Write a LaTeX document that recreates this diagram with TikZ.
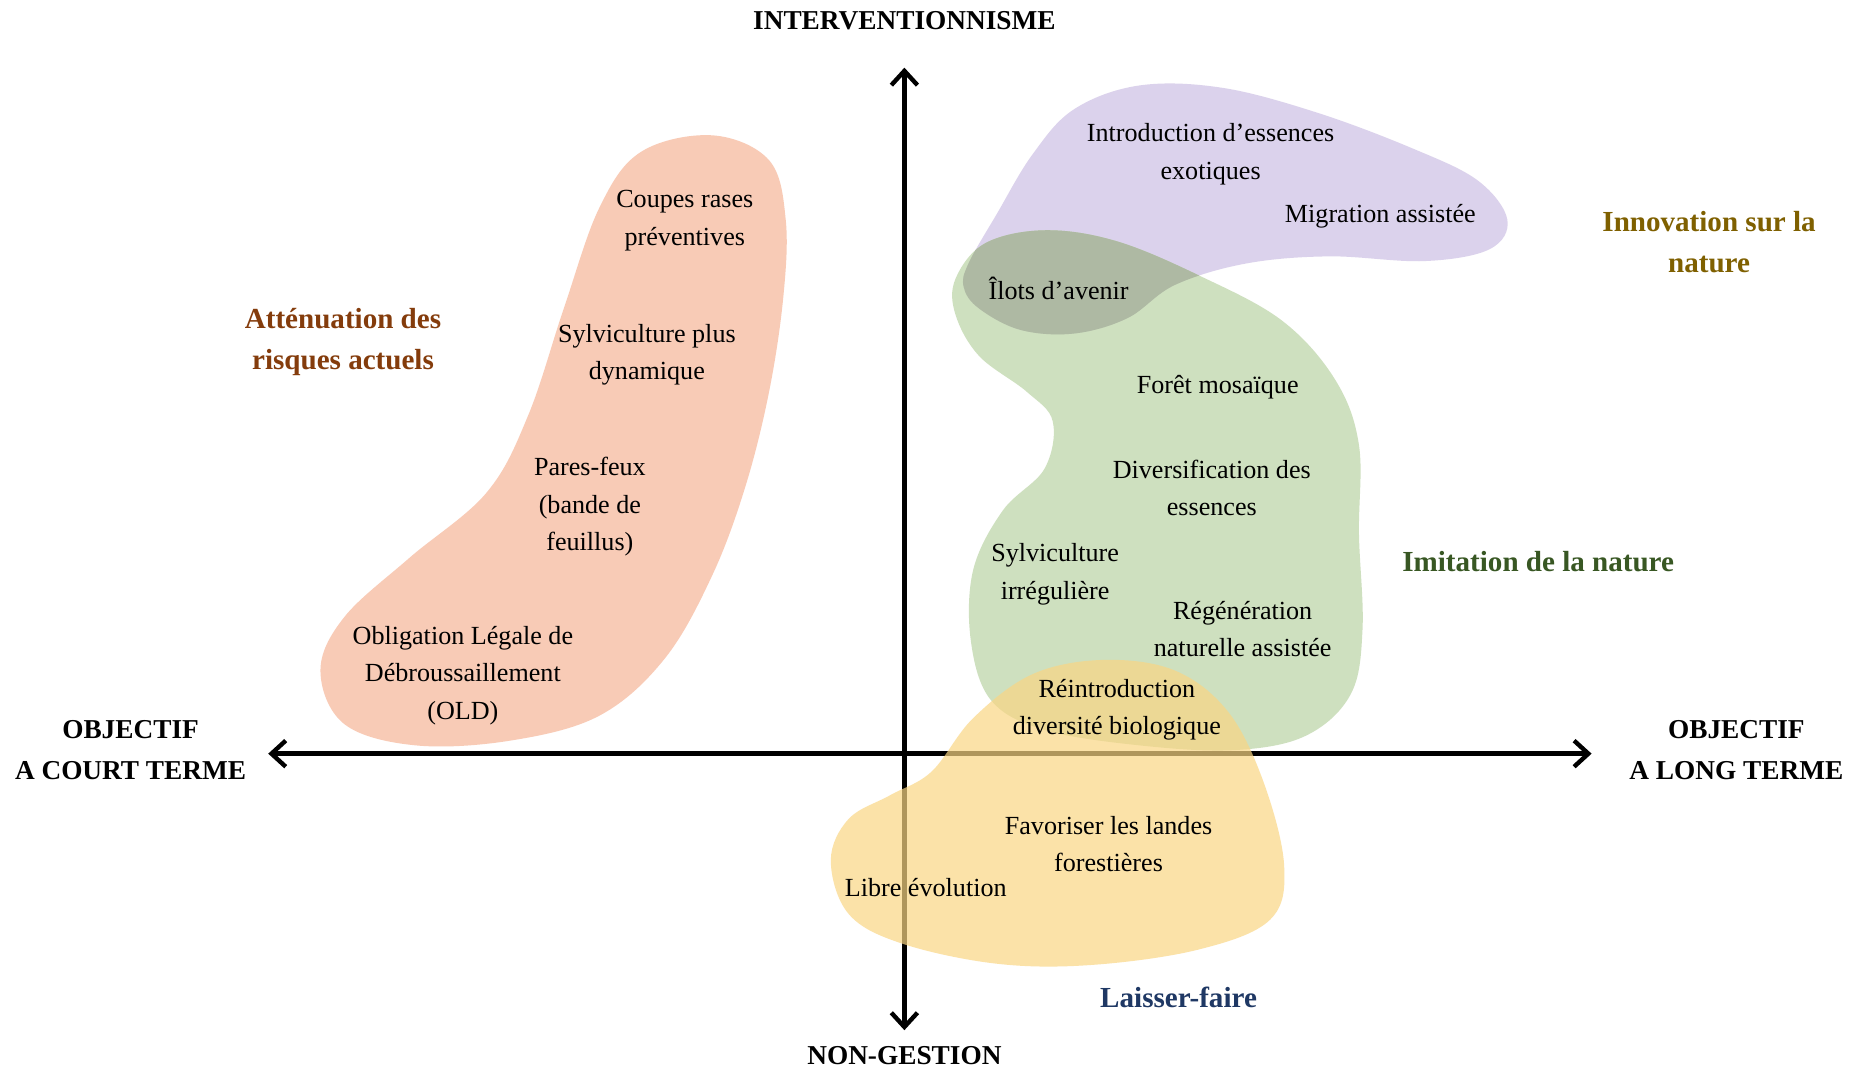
\documentclass[tikz,border=0pt]{standalone}
\usepackage{fontspec}
\setmainfont{Liberation Serif}
\usetikzlibrary{arrows.meta}
\definecolor{orangeblob}{HTML}{F6B598}
\definecolor{purpleblob}{HTML}{CDC0E4}
\definecolor{greenblob}{HTML}{BAD3A5}
\definecolor{yellowblob}{HTML}{FAD684}
\definecolor{pgoverlap}{HTML}{AEB9A3}
\definecolor{brownlbl}{HTML}{843C0C}
\definecolor{goldlbl}{HTML}{7F6000}
\definecolor{greenlbl}{HTML}{385723}
\definecolor{bluelbl}{HTML}{1F3864}
\newcommand{\orangepath}{plot[smooth cycle, tension=0.6] coordinates {(540,128) (600,114) (648,135) (662,185) (660,250) (648,330) (628,410) (600,485) (560,555) (505,603) (430,624) (350,628) (290,610) (270,565) (290,520) (345,470) (410,415) (445,350) (475,260) (505,175)}}
\newcommand{\purplepath}{plot[smooth cycle, tension=0.6] coordinates {(816,222) (840,180) (870,130) (905,92) (960,72) (1030,74) (1110,95) (1190,125) (1245,152) (1270,185) (1255,210) (1200,220) (1120,216) (1050,222) (990,240) (950,268) (905,281) (860,278) (825,260) (812,242)}}
\newcommand{\greenpath}{plot[smooth cycle, tension=0.6] coordinates {(805,235) (830,205) (880,194) (940,203) (1010,232) (1080,270) (1125,320) (1145,375) (1145,450) (1148,530) (1138,585) (1100,620) (1040,632) (960,628) (880,615) (835,590) (818,540) (820,480) (845,430) (880,395) (887,355) (865,330) (825,300) (805,265)}}
\newcommand{\yellowpath}{plot[smooth cycle, tension=0.6] coordinates {(930,556) (990,565) (1035,600) (1065,660) (1082,730) (1070,775) (1010,800) (920,813) (840,812) (760,795) (715,770) (700,725) (715,690) (750,670) (785,650) (820,605) (870,568)}}
\begin{document}
\begin{tikzpicture}[x=1pt,y=-1pt,
  blobtxt/.style={font=\fontsize{22}{31.5}\selectfont, align=center, inner sep=0pt},
  catlbl/.style={font=\fontsize{24.5}{35}\selectfont\bfseries, align=center, inner sep=0pt},
  axislbl/.style={font=\fontsize{23}{34}\selectfont\bfseries, align=center, inner sep=0pt},
  axisline/.style={line width=3.7pt, {Straight Barb[length=12pt,width=22pt]}-{Straight Barb[length=12pt,width=22pt]}},
  blobfill/.style={fill=#1, fill opacity=0.7, draw=none}]
\fill[white] (0,0) rectangle (1568,902);
\useasboundingbox (0,0) rectangle (1568,902);
% axes
\coordinate (axT) at (762,57);
\coordinate (axB) at (762,868);
\coordinate (axL) at (226,635);
\coordinate (axR) at (1341,635);
\draw[axisline] (axB) -- (axT);
\draw[axisline] (axL) -- (axR);
% blobs
\path[blobfill=orangeblob] \orangepath;
\path[blobfill=purpleblob] \purplepath;
\path[blobfill=greenblob] \greenpath;
\begin{scope}
\clip \greenpath;
\fill[pgoverlap] \purplepath;
\end{scope}
\path[blobfill=yellowblob] \yellowpath;
% axis labels
\node[axislbl] (interv) at (762,17) {INTERVENTIONNISME};
\node[axislbl] (nong) at (762,889) {NON-GESTION};
\node[axislbl] (court) at (110,632) {OBJECTIF\\A COURT TERME};
\node[axislbl] (long) at (1463,632) {OBJECTIF\\A LONG TERME};
% category labels
\node[catlbl, text=brownlbl] (attn) at (289,288) {Atténuation des\\risques actuels};
\node[catlbl, text=goldlbl] (innov) at (1440,204) {Innovation sur la\\nature};
\node[catlbl, text=greenlbl] (imit) at (1296,473) {Imitation de la nature};
\node[catlbl, text=bluelbl] (laiss) at (993,840) {Laisser-faire};
% blob texts
\node[blobtxt] (coupes) at (577,186) {Coupes rases\\préventives};
\node[blobtxt] (sylvdyn) at (545,299) {Sylviculture plus\\dynamique};
\node[blobtxt] (pares) at (497,427) {Pares-feux\\(bande de\\feuillus)};
\node[blobtxt] (old) at (390,569) {Obligation Légale de\\Débroussaillement\\(OLD)};
\node[blobtxt] (intro) at (1020,130) {Introduction d’essences\\exotiques};
\node[blobtxt] (migr) at (1163,182) {Migration assistée};
\node[blobtxt] (ilots) at (892,243) {Îlots d’avenir};
\node[blobtxt] (foret) at (1026,326) {Forêt mosaïque};
\node[blobtxt] (divers) at (1021,411) {Diversification des\\essences};
\node[blobtxt] (sylvirr) at (889,484) {Sylviculture\\irrégulière};
\node[blobtxt] (regen) at (1047,530) {Régénération\\naturelle assistée};
\node[blobtxt] (reintro) at (941,598) {Réintroduction\\diversité biologique};
\node[blobtxt] (landes) at (934,711) {Favoriser les landes\\forestières};
\node[blobtxt] (libre) at (780,748) {Libre évolution};
\end{tikzpicture}
\end{document}
